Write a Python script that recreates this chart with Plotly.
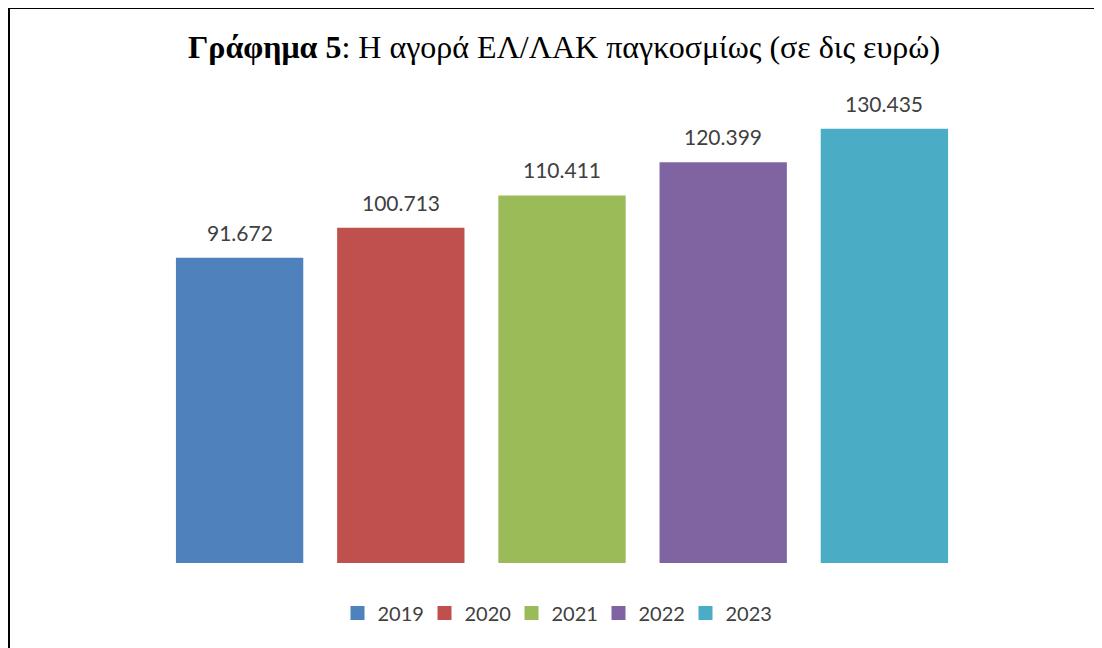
import plotly.graph_objects as go

years = ["2019", "2020", "2021", "2022", "2023"]
values = [91.672, 100.713, 110.411, 120.399, 130.435]
colors = ["#4F81BD", "#C0504D", "#9BBB59", "#8064A2", "#4BACC6"]
labels = ["91.672", "100.713", "110.411", "120.399", "130.435"]

W, H = 1102, 648
ml, mt = 151, 89
pw, ph = 806, 466
mr, mb = W - ml - pw, H - mt - ph

fig = go.Figure()
for i, (y, v, c) in enumerate(zip(years, values, colors)):
    fig.add_trace(go.Bar(x=[i], y=[v], name=y, width=0.79, showlegend=False,
                         marker=dict(color=c, line=dict(width=0)),
                         hoverinfo="skip"))
    # legend entry with a larger square swatch
    fig.add_trace(go.Scatter(x=[None], y=[None], name=y, mode="markers",
                             marker=dict(symbol="square", size=14, color=c),
                             hoverinfo="skip"))

for i, (v, t) in enumerate(zip(values, labels)):
    fig.add_annotation(x=i, y=v, text=t, showarrow=False, yanchor="bottom", yshift=11,
                       font=dict(family="Lato", size=21, color="#404040"))

# chart frame (left and top edges visible)
fig.add_shape(type="rect", xref="paper", yref="paper",
              x0=(1 - ml) / pw, x1=2, y0=-2, y1=(mt + ph - 0) / ph,
              line=dict(color="black", width=2), fillcolor="rgba(0,0,0,0)")

fig.update_layout(
    width=W, height=H,
    margin=dict(l=ml, r=mr, t=mt, b=mb),
    paper_bgcolor="white", plot_bgcolor="white",
    barmode="overlay",
    showlegend=True,
    legend=dict(orientation="h", x=(547 - ml) / pw, xanchor="center",
                y=(mt + ph - 605) / ph, yanchor="middle",
                font=dict(family="Lato", size=20, color="#404040"),
                entrywidth=42, entrywidthmode="pixels",
                traceorder="normal"),
    title=dict(text="<b>Γράφημα 5</b>: Η αγορά ΕΛ/ΛΑΚ παγκοσμίως (σε δις ευρώ)",
               x=556 / W, xanchor="center", y=1 - 39 / H, yanchor="middle",
               font=dict(family="Liberation Serif", size=32, color="black")),
    xaxis=dict(visible=False, range=[-0.5, len(years) - 0.5]),
    yaxis=dict(visible=False, range=[0, 140]),
)

fig.write_html("out.html")
